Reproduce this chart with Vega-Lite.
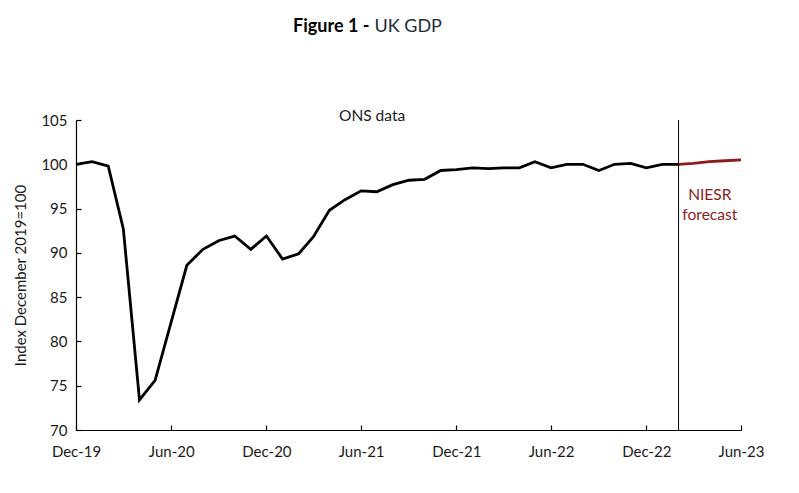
{
  "$schema": "https://vega.github.io/schema/vega-lite/v6.json",
  "width": 665,
  "height": 310,
  "autosize": "none",
  "padding": {"left": 76, "top": 120, "right": 58, "bottom": 63},
  "background": "white",
  "config": {
    "font": "Lato",
    "view": {"stroke": null}
  },
  "datasets": {
    "gdp": [
      {"date": "2019-12-01", "value": 100.0, "series": "ONS"},
      {"date": "2020-01-01", "value": 100.3, "series": "ONS"},
      {"date": "2020-02-01", "value": 99.8, "series": "ONS"},
      {"date": "2020-03-01", "value": 92.7, "series": "ONS"},
      {"date": "2020-04-01", "value": 73.4, "series": "ONS"},
      {"date": "2020-05-01", "value": 75.6, "series": "ONS"},
      {"date": "2020-06-01", "value": 82.2, "series": "ONS"},
      {"date": "2020-07-01", "value": 88.6, "series": "ONS"},
      {"date": "2020-08-01", "value": 90.4, "series": "ONS"},
      {"date": "2020-09-01", "value": 91.4, "series": "ONS"},
      {"date": "2020-10-01", "value": 91.9, "series": "ONS"},
      {"date": "2020-11-01", "value": 90.4, "series": "ONS"},
      {"date": "2020-12-01", "value": 91.9, "series": "ONS"},
      {"date": "2021-01-01", "value": 89.3, "series": "ONS"},
      {"date": "2021-02-01", "value": 89.9, "series": "ONS"},
      {"date": "2021-03-01", "value": 91.8, "series": "ONS"},
      {"date": "2021-04-01", "value": 94.8, "series": "ONS"},
      {"date": "2021-05-01", "value": 96.0, "series": "ONS"},
      {"date": "2021-06-01", "value": 97.0, "series": "ONS"},
      {"date": "2021-07-01", "value": 96.9, "series": "ONS"},
      {"date": "2021-08-01", "value": 97.7, "series": "ONS"},
      {"date": "2021-09-01", "value": 98.2, "series": "ONS"},
      {"date": "2021-10-01", "value": 98.3, "series": "ONS"},
      {"date": "2021-11-01", "value": 99.3, "series": "ONS"},
      {"date": "2021-12-01", "value": 99.4, "series": "ONS"},
      {"date": "2022-01-01", "value": 99.6, "series": "ONS"},
      {"date": "2022-02-01", "value": 99.5, "series": "ONS"},
      {"date": "2022-03-01", "value": 99.6, "series": "ONS"},
      {"date": "2022-04-01", "value": 99.6, "series": "ONS"},
      {"date": "2022-05-01", "value": 100.3, "series": "ONS"},
      {"date": "2022-06-01", "value": 99.6, "series": "ONS"},
      {"date": "2022-07-01", "value": 100.0, "series": "ONS"},
      {"date": "2022-08-01", "value": 100.0, "series": "ONS"},
      {"date": "2022-09-01", "value": 99.3, "series": "ONS"},
      {"date": "2022-10-01", "value": 100.0, "series": "ONS"},
      {"date": "2022-11-01", "value": 100.1, "series": "ONS"},
      {"date": "2022-12-01", "value": 99.6, "series": "ONS"},
      {"date": "2023-01-01", "value": 100.0, "series": "ONS"},
      {"date": "2023-02-01", "value": 100.0, "series": "ONS"},
      {"date": "2023-02-01", "value": 100.0, "series": "NIESR"},
      {"date": "2023-03-01", "value": 100.1, "series": "NIESR"},
      {"date": "2023-04-01", "value": 100.3, "series": "NIESR"},
      {"date": "2023-05-01", "value": 100.4, "series": "NIESR"},
      {"date": "2023-06-01", "value": 100.5, "series": "NIESR"}
    ],
    "labels": [
      {"date": "2021-06-22", "value": 105.45, "text": "ONS data", "kind": "ons"},
      {"date": "2023-04-02", "value": 96.5, "text": "NIESR", "kind": "niesr"},
      {"date": "2023-04-02", "value": 94.25, "text": "forecast", "kind": "niesr"}
    ]
  },
  "layer": [
    {
      "data": {"name": "gdp"},
      "mark": {"type": "line", "strokeWidth": 2.8, "strokeJoin": "miter"},
      "encoding": {
        "x": {
          "field": "date",
          "type": "temporal",
          "scale": {"type": "utc", "domain": ["2019-12-01", "2023-06-01"], "nice": false},
          "axis": {
            "title": null,
            "labelExpr": "utcFormat(datum.value, '%b-%y')",
            "values": ["2019-12-01", "2020-06-01", "2020-12-01", "2021-06-01", "2021-12-01", "2022-06-01", "2022-12-01", "2023-06-01"],
            "grid": false,
            "domainColor": "black",
            "domainWidth": 1.2,
            "tickColor": "black",
            "tickWidth": 1.2,
            "tickSize": -5,
            "labelPadding": 19,
            "labelFontSize": 15,
            "labelColor": "#1a1a1a",
            "labelFlush": false,
            "labelOverlap": false
          }
        },
        "y": {
          "field": "value",
          "type": "quantitative",
          "scale": {"domain": [70, 105], "nice": false, "zero": false},
          "axis": {
            "title": "Index December 2019=100",
            "titleFontSize": 15,
            "titleFontWeight": "normal",
            "titleColor": "#1a1a1a",
            "titlePadding": 12,
            "values": [70, 75, 80, 85, 90, 95, 100, 105],
            "grid": false,
            "domainColor": "black",
            "domainWidth": 1.2,
            "tickColor": "black",
            "tickWidth": 1.2,
            "tickSize": -5,
            "labelPadding": 14,
            "labelFontSize": 15,
            "labelColor": "#1a1a1a"
          }
        },
        "color": {
          "field": "series",
          "type": "nominal",
          "scale": {"domain": ["ONS", "NIESR"], "range": ["#000000", "#8c1c1c"]},
          "legend": null
        }
      }
    },
    {
      "data": {"values": [{"date": "2023-02-01"}]},
      "mark": {"type": "rule", "color": "black", "strokeWidth": 1},
      "encoding": {
        "x": {"field": "date", "type": "temporal"}
      }
    },
    {
      "data": {"name": "labels"},
      "mark": {"type": "text", "fontSize": 15.5, "align": "center", "baseline": "middle"},
      "encoding": {
        "x": {"field": "date", "type": "temporal"},
        "y": {"field": "value", "type": "quantitative"},
        "text": {"field": "text"},
        "color": {"field": "kind", "type": "nominal", "scale": {"domain": ["ons", "niesr"], "range": ["#1a1a1a", "#8c1c1c"]}, "legend": null}
      }
    },
    {
      "data": {"values": [{"date": "2021-06-17", "value": 115.5, "text": "Figure 1 -"}]},
      "mark": {"type": "text", "fontSize": 18, "fontWeight": "bold", "align": "right", "baseline": "middle", "color": "black"},
      "encoding": {
        "x": {"field": "date", "type": "temporal"},
        "y": {"field": "value", "type": "quantitative"},
        "text": {"field": "text"}
      }
    },
    {
      "data": {"values": [{"date": "2021-06-17", "value": 115.5, "text": "UK GDP"}]},
      "mark": {"type": "text", "fontSize": 18, "align": "left", "baseline": "middle", "dx": 5, "color": "#1e2a40"},
      "encoding": {
        "x": {"field": "date", "type": "temporal"},
        "y": {"field": "value", "type": "quantitative"},
        "text": {"field": "text"}
      }
    }
  ],
  "resolve": {"scale": {"color": "independent"}}
}
